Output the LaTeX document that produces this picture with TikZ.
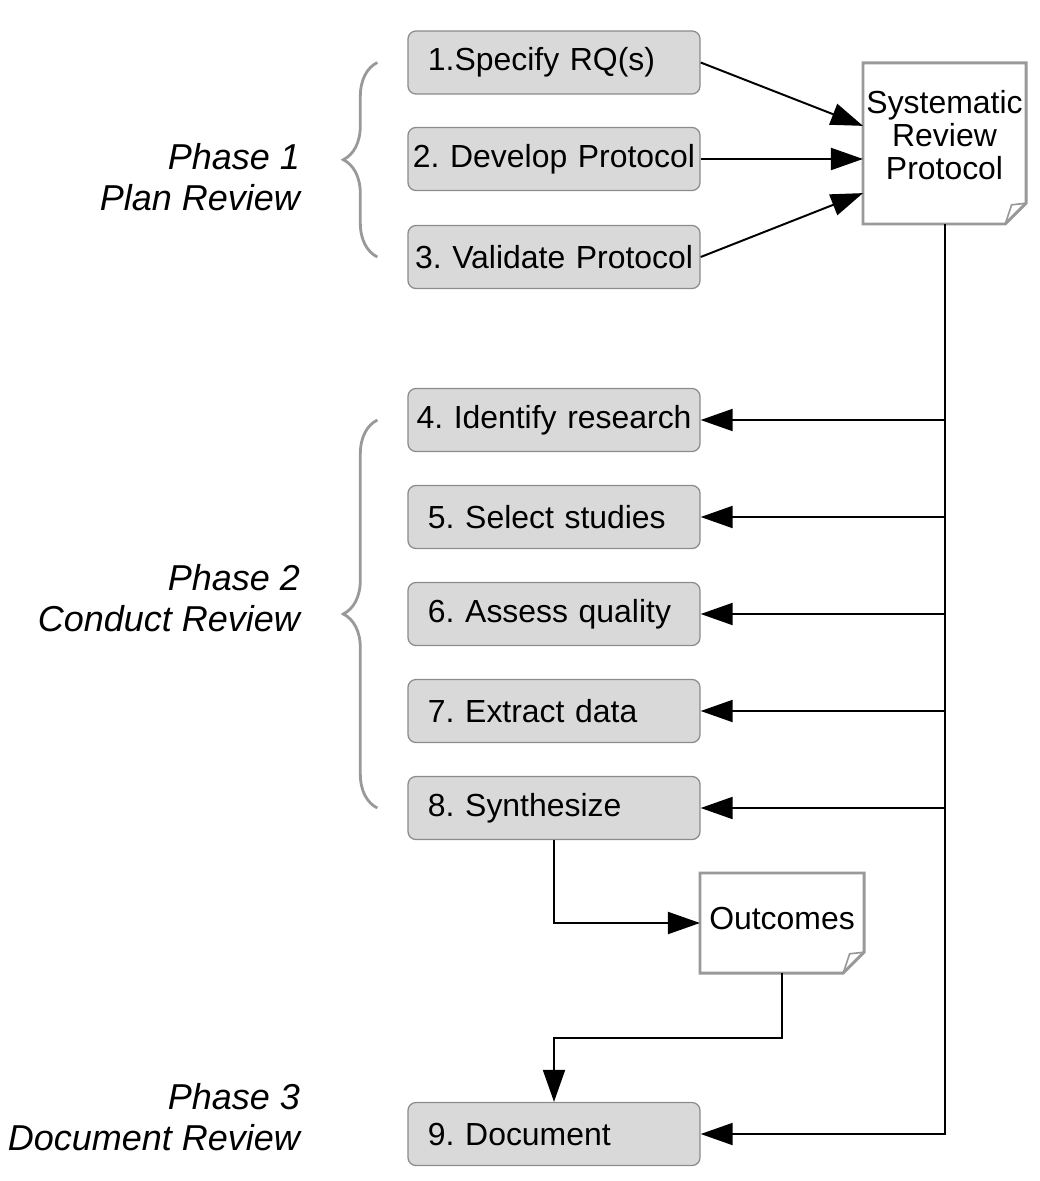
\documentclass[tikz,border=0pt]{standalone}
\usepackage{fontspec}
\setmainfont{Liberation Sans}
\usetikzlibrary{arrows.meta,decorations.pathreplacing,calc}
\definecolor{taskfill}{HTML}{D9D9D9}
\definecolor{taskline}{HTML}{8C8C8C}
\definecolor{pageline}{HTML}{999999}
\frenchspacing
\tikzset{
  task/.style={draw=taskline, line width=0.9pt, fill=taskfill, rounded corners=0.2cm,
    minimum width=7.3cm, minimum height=1.575cm, text width=6.3cm, inner xsep=0.5cm,
    align=left, font=\fontsize{22.7}{26}\selectfont},
  wide/.style={text width=7.2cm, inner xsep=0.05cm, align=center},
  page/.style={inner sep=0pt, outer sep=0pt},
  pagetext/.style={align=center, font=\fontsize{22.7}{23.5}\selectfont},
  phase/.style={anchor=east, align=right, font=\fontsize{25.6}{29.2}\selectfont\itshape},
  link/.style={line width=1.4pt, -{Triangle[length=0.8cm,width=0.55cm]}},
  curly/.style={draw=pageline, line width=2pt, decorate, decoration={brace, amplitude=0.85cm}}
}
% page outline with a folded corner
\newcommand\dogear[1]{%
  \draw[pageline, line width=2.1pt] (#1.north west) -- (#1.north east)
    -- ([yshift=0.52cm]#1.south east) -- ([xshift=-0.52cm]#1.south east)
    -- (#1.south west) -- cycle;
  \draw[pageline, line width=1.2pt] ([xshift=-0.52cm]#1.south east)
    -- ([xshift=-0.36cm,yshift=0.48cm]#1.south east) -- ([yshift=0.52cm]#1.south east);}
\begin{document}
\begin{tikzpicture}[x=0.025cm, y=-0.025cm]
  \useasboundingbox (0,0) rectangle (1039,1181);
  % tasks
  \node[task] (b1) at (554,62.5) {1.Specify RQ(s)};
  \node[task, wide] (b2) at (554,159) {2. Develop Protocol};
  \node[task, wide] (b3) at (554,257) {3. Validate Protocol};
  \node[task, wide] (b4) at (554,420) {4. Identify research};
  \node[task] (b5) at (554,517) {5. Select studies};
  \node[task] (b6) at (554,614) {6. Assess quality};
  \node[task] (b7) at (554,711) {7. Extract data};
  \node[task] (b8) at (554,808) {8. Synthesize};
  \node[task] (b9) at (554,1134) {9. Document};
  % documents
  \node[page, minimum width=4.075cm, minimum height=4.025cm] (srp) at (944.5,143.5) {};
  \dogear{srp}
  \node[pagetext] (srptext) at ([yshift=0.2cm]srp.center) {Systematic\\Review\\Protocol};
  \node[page, minimum width=4.1cm, minimum height=2.5cm] (out) at (782,923) {};
  \dogear{out}
  \node[pagetext] (outtext) at ([yshift=0.12cm]out.center) {Outcomes};
  % phases
  \node[phase] (ph1) at (305,177) {Phase 1\\Plan Review};
  \node[phase] (ph2) at (305,598) {Phase 2\\Conduct Review};
  \node[phase] (ph3) at (305,1117) {Phase 3\\Document Review};
  \draw[curly] ([xshift=-0.75cm]b3.west) -- ([xshift=-0.75cm]b1.west);
  \draw[curly] ([xshift=-0.75cm]b8.west) -- ([xshift=-0.75cm]b4.west);
  % flow
  \draw[link] (b1.east) -- ([yshift=0.44cm]srp.west);
  \draw[link] (b2.east) -- (b2.east -| srp.west);
  \draw[link] (b3.east) -- ([yshift=-1.24cm]srp.west);
  \draw[link] (srp.south) |- (b9.east);
  \foreach \b in {b4,b5,b6,b7,b8} \draw[link] (srp.south |- \b.east) -- (\b.east);
  \draw[link] (b8.south) |- (out.west);
  \draw[link] (out.south) -- ++(0,65) -| (b9.north);
\end{tikzpicture}
\end{document}
